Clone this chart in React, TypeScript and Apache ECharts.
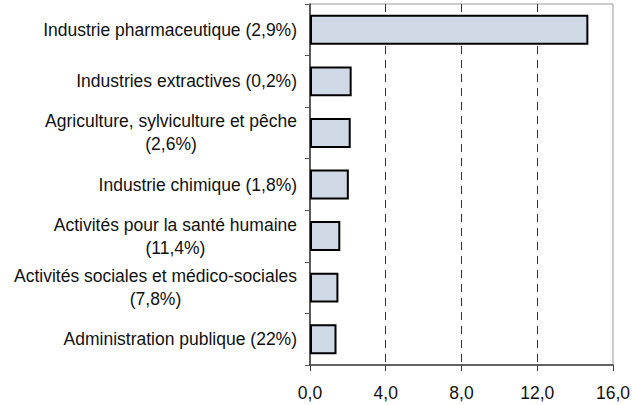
import React, { useEffect, useRef } from "react";
import * as echarts from "echarts";

const categories = [
  "Industrie pharmaceutique (2,9%)",
  "Industries extractives (0,2%)",
  "Agriculture, sylviculture et pêche\n(2,6%)",
  "Industrie chimique (1,8%)",
  "Activités pour la santé humaine\n(11,4%)",
  "Activités sociales et médico-sociales\n(7,8%)",
  "Administration publique (22%)",
];
const values = [14.7, 2.2, 2.15, 2.05, 1.6, 1.5, 1.4];
const xMin = 0;
const xMax = 16;
const xInterval = 4;

const FONT = "'Liberation Sans', Arial, Helvetica, sans-serif";

export default function App() {
  const ref = useRef<HTMLDivElement>(null);
  useEffect(() => {
    if (!ref.current) return;
    const chart = echarts.init(ref.current, undefined, { renderer: "svg" });
    chart.setOption({
      animation: false,
      backgroundColor: "#ffffff",
      textStyle: { fontFamily: FONT },
      grid: {
        left: 310,
        right: 19,
        top: 4,
        bottom: 40,
        show: true,
        borderColor: "#999999",
        borderWidth: 1,
        backgroundColor: "transparent",
      },
      xAxis: {
        type: "value",
        min: xMin,
        max: xMax,
        interval: xInterval,
        axisLine: { show: true, lineStyle: { color: "#404040", width: 1.5 } },
        axisTick: { show: true, length: 6, lineStyle: { color: "#404040" } },
        axisLabel: {
          margin: 19,
          fontSize: 17.5,
          fontFamily: FONT,
          color: "#111111",
          formatter: (v: number) => v.toFixed(1).replace(".", ","),
        },
        splitLine: {
          show: true,
          showMinLine: false,
          showMaxLine: false,
          lineStyle: { color: "#333333", type: [8, 6], width: 1 },
        },
      },
      yAxis: {
        type: "category",
        inverse: true,
        data: categories,
        axisLine: { show: true, lineStyle: { color: "#333333", width: 1.5 } },
        axisTick: { show: true, length: 5, lineStyle: { color: "#555555" } },
        axisLabel: {
          margin: 13,
          align: "right",
          fontSize: 17.5,
          fontFamily: FONT,
          color: "#111111",
          formatter: (v: string) =>
            v
              .split("\n")
              .map((l) => `{c|${l}}`)
              .join("\n"),
          rich: {
            c: {
              align: "center",
              fontSize: 17.5,
              lineHeight: 23,
              fontFamily: FONT,
              color: "#111111",
            },
          },
        },
        splitLine: { show: false },
      },
      series: [
        {
          type: "bar",
          data: values,
          barCategoryGap: "42%",
          itemStyle: {
            color: "#cfd9e6",
            borderColor: "#000000",
            borderWidth: 2,
          },
        },
      ],
    });
    return () => chart.dispose();
  }, []);
  return (
    <div
      ref={ref}
      style={{ position: "fixed", left: 0, top: 0, width: 633, height: 405 }}
    />
  );
}
